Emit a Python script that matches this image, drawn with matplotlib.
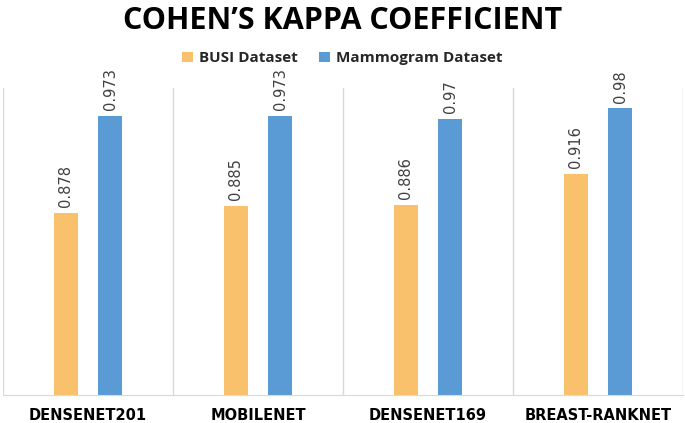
import matplotlib.pyplot as plt
import numpy as np

# data
models = ['DENSENET201', 'MOBILENET', 'DENSENET169', 'BREAST-RANKNET']
busi = [0.878, 0.885, 0.886, 0.916]
mammo = [0.973, 0.973, 0.97, 0.98]
series_names = ['BUSI Dataset', 'Mammogram Dataset']

orange = '#F9C16B'
blue = '#5B9BD5'
grid_col = '#D9D9D9'

fig = plt.figure(figsize=(6.85, 4.23), dpi=100)
ax = fig.add_axes([0.0044, 0.066, 0.9926, 0.726])

x = np.arange(len(models))
w = 0.14
off = 0.13
b1 = ax.bar(x - off, busi, w, color=orange, label=series_names[0], bottom=0)
b2 = ax.bar(x + off, mammo, w, color=blue, label=series_names[1], bottom=0)

ax.set_ylim(0.7, 1.0)
ax.set_xlim(-0.5, len(models) - 0.5)

# category separators
for s in np.arange(-0.5, len(models), 1.0):
    ax.axvline(s, color=grid_col, lw=1, zorder=0)

# value labels
for bars, vals in [(b1, busi), (b2, mammo)]:
    for b, v in zip(bars, vals):
        ax.annotate(str(v), (b.get_x() + b.get_width() / 2, v),
                    xytext=(0, 4), textcoords='offset points',
                    rotation=90, ha='center', va='bottom',
                    fontsize=10.5, color='#404040')

for sp in ['top', 'left', 'right']:
    ax.spines[sp].set_visible(False)
ax.spines['bottom'].set_color(grid_col)
ax.set_yticks([])
ax.set_xticks(x)
ax.set_xticklabels(models, fontsize=10.5, fontweight='bold', color='black')
ax.tick_params(axis='x', length=0, pad=9)

fig.suptitle("COHEN\u2019S KAPPA COEFFICIENT", fontsize=22, fontweight='bold',
             y=0.985, va='top', family='Open Sans')
leg = fig.legend(loc='center', bbox_to_anchor=(0.5, 0.862), ncol=2, frameon=False,
                 prop={'family': 'Open Sans', 'weight': 'bold', 'size': 11},
                 handlelength=0.7, handleheight=0.7,
                 columnspacing=1.4, handletextpad=0.4)
for t in leg.get_texts():
    t.set_color('#262626')

fig.savefig('out.png', dpi=100)
